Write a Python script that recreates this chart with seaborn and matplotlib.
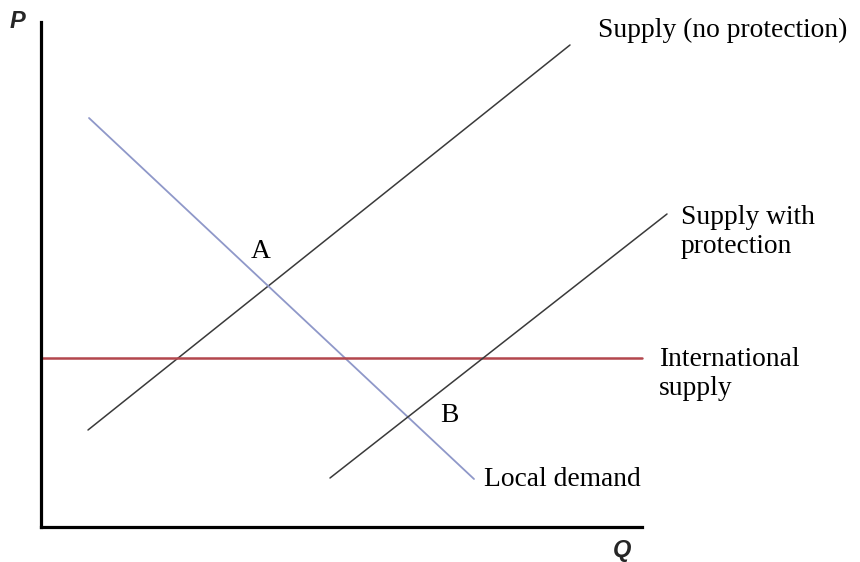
import matplotlib
matplotlib.use("Agg")
import matplotlib.pyplot as plt
import seaborn as sns
import pandas as pd

# Data (Q, P) in chart units
supply_q = [47, 529]
supply_p = [97, 482]
demand_q = [48, 433]
demand_p = [409, 48]
intl_q = [0, 601]
intl_p = [169, 169]
protect_q = [289, 626]
protect_p = [49, 313]

sns.set_style("white")
plt.rcParams['font.family'] = ['Liberation Serif', 'DejaVu Serif']

W, H = 860, 562
fig = plt.figure(figsize=(W / 100, H / 100), dpi=100)
ax = fig.add_axes([41 / W, (H - 527) / H, (642 - 41) / W, (527 - 22) / H])

def line(q, p, color, lw):
    df = pd.DataFrame({"Q": q, "P": p})
    sns.lineplot(data=df, x="Q", y="P", ax=ax, color=color, linewidth=lw,
                 sort=False, estimator=None)

line(supply_q, supply_p, "#3a3a3a", 1.1)
line(demand_q, demand_p, "#8f98c9", 1.3)
line(intl_q, intl_p, "#b3474d", 1.8)
line(protect_q, protect_p, "#3a3a3a", 1.1)
for l in ax.lines:
    l.set_clip_on(False)

ax.set_xlim(0, 601)
ax.set_ylim(0, 505)
ax.set_xticks([])
ax.set_yticks([])
ax.set_xlabel("")
ax.set_ylabel("")
for s in ["top", "right"]:
    ax.spines[s].set_visible(False)
for s in ["left", "bottom"]:
    ax.spines[s].set_linewidth(2.3)
    ax.spines[s].set_color("black")

fs = 19.8
def px(x, y):
    return x - 41, 527 - y

kw = dict(fontsize=fs, color="black", clip_on=False)
ax.text(*px(598, 30), "Supply (no protection)", ha="left", va="center", **kw)
ax.text(*px(681, 232), "Supply with\nprotection", ha="left", va="center", linespacing=1.25, **kw)
ax.text(*px(659, 374), "International\nsupply", ha="left", va="center", linespacing=1.25, **kw)
ax.text(*px(261, 252), "A", ha="center", va="center", **kw)
ax.text(*px(449, 416), "B", ha="center", va="center", **kw)
ax.text(*px(484, 480), "Local demand", ha="left", va="center", **kw)

sans = dict(fontsize=17, fontweight="bold", fontstyle="italic",
            family=["Liberation Sans", "DejaVu Sans"], clip_on=False)
ax.text(*px(17, 22), "P", ha="center", va="center", **sans)
ax.text(*px(622, 550), "Q", ha="center", va="center", **sans)

fig.savefig("out.png", dpi=100, facecolor="white")
